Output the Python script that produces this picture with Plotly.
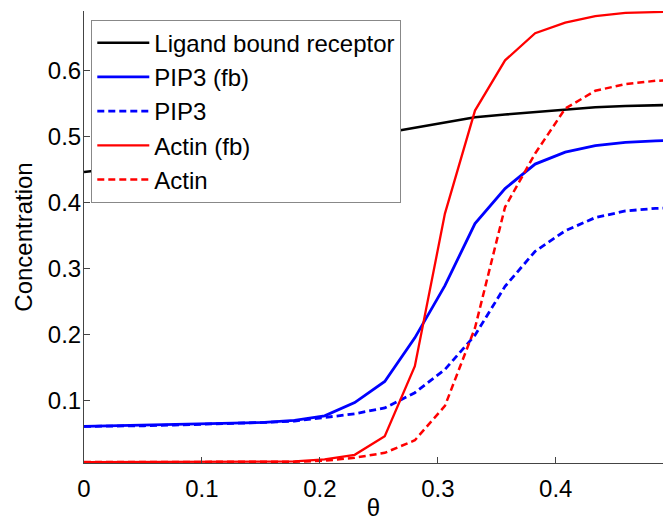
import plotly.graph_objects as go

# Receptor angle theta (sample points along the cell perimeter)
theta = [0.0, 0.0255, 0.051, 0.0765, 0.102, 0.1275, 0.153, 0.1785, 0.204, 0.2295,
         0.255, 0.2805, 0.306, 0.3315, 0.357, 0.3825, 0.408, 0.4335, 0.459, 0.4845, 0.51]

ligand_bound = [0.446, 0.451, 0.456, 0.461, 0.466, 0.472, 0.477, 0.483, 0.489, 0.497,
                0.505, 0.512, 0.520, 0.529, 0.533, 0.537, 0.541, 0.544, 0.546, 0.547, 0.548]
pip3_fb = [0.061, 0.062, 0.062, 0.063, 0.064, 0.065, 0.067, 0.070, 0.077, 0.097,
           0.129, 0.195, 0.274, 0.368, 0.421, 0.458, 0.476, 0.486, 0.491, 0.493, 0.495]
pip3 = [0.061, 0.061, 0.062, 0.063, 0.064, 0.065, 0.067, 0.069, 0.074, 0.080,
        0.089, 0.112, 0.147, 0.199, 0.273, 0.326, 0.357, 0.377, 0.387, 0.391, 0.392]
actin_fb = [0.007, 0.007, 0.007, 0.007, 0.007, 0.007, 0.007, 0.008, 0.011, 0.018,
            0.046, 0.152, 0.383, 0.539, 0.615, 0.656, 0.672, 0.682, 0.687, 0.688, 0.689]
actin = [0.007, 0.007, 0.007, 0.007, 0.007, 0.007, 0.007, 0.0075, 0.009, 0.0135,
         0.021, 0.040, 0.092, 0.210, 0.393, 0.474, 0.542, 0.569, 0.579, 0.584, 0.586]

series = [
    ("Ligand bound receptor", ligand_bound, "#000000", "solid", 2.6),
    ("PIP3 (fb)", pip3_fb, "#0000ff", "solid", 2.8),
    ("PIP3", pip3, "#0000ff", "7px,4px", 2.8),
    ("Actin (fb)", actin_fb, "#ff0000", "solid", 2.3),
    ("Actin", actin, "#ff0000", "7px,4px", 2.5),
]

fig = go.Figure()
for name, values, color, dash, width in series:
    fig.add_trace(go.Scatter(
        x=theta, y=values, name=name, mode="lines",
        line=dict(color=color, dash=dash, width=width),
    ))

font_family = "Liberation Sans, Arial, Helvetica, sans-serif"
axis_style = dict(
    showline=True, linecolor="#444444", linewidth=1,
    ticks="inside", ticklen=6, tickcolor="#444444", tickwidth=1,
    showgrid=False, zeroline=False, automargin=False,
    tickfont=dict(size=24, color="#000000", family=font_family),
)

fig.update_layout(
    width=663, height=521,
    margin=dict(l=84, r=0, t=11, b=58),
    paper_bgcolor="white", plot_bgcolor="white",
    font=dict(family=font_family, color="#000000"),
    xaxis=dict(range=[0, 0.4909], tickvals=[0, 0.1, 0.2, 0.3, 0.4],
               ticktext=["0", "0.1", "0.2", "0.3", "0.4"],
               ticklabelstandoff=4,
               title=dict(text="θ", font=dict(size=24), standoff=14),
               **axis_style),
    yaxis=dict(range=[0.0056, 0.6897], tickvals=[0.1, 0.2, 0.3, 0.4, 0.5, 0.6],
               ticktext=["0.1", "0.2", "0.3", "0.4", "0.5", "0.6"],
               ticklabelstandoff=-3,
               title=dict(text="Concentration", font=dict(size=24), standoff=8),
               **axis_style),
    legend=dict(
        x=0.0126, y=0.981, xanchor="left", yanchor="top",
        bgcolor="white", bordercolor="#888888", borderwidth=1,
        font=dict(size=24, family=font_family, color="#000000"),
        itemwidth=52,
    ),
    showlegend=True,
)

fig.write_html("out.html")
